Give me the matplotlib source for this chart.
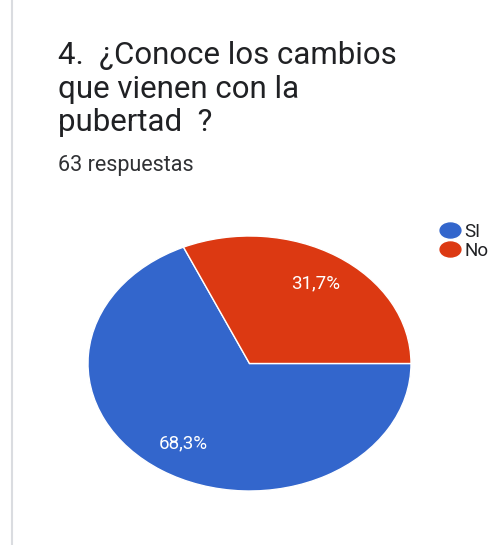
import matplotlib.pyplot as plt
from matplotlib.lines import Line2D
from matplotlib.path import Path
from matplotlib.transforms import Affine2D

plt.rcParams['font.family'] = ['Roboto', 'DejaVu Sans']

# datos
categorias = ['SI', 'No']
porcentajes = [68.3, 31.7]
colores = ['#3366cc', '#dc3912']
titulo = ['4.  ¿Conoce los cambios', 'que vienen con la', 'pubertad  ?']
subtitulo = '63 respuestas'

W, H = 495, 545
fig = plt.figure(figsize=(W / 100, H / 100), dpi=100)
fig.patch.set_facecolor('white')

# borde izquierdo de la tarjeta
fig.add_artist(Line2D([12 / W, 12 / W], [0, 1], color='#dadce0', lw=1.5))

# título, una línea cada vez (base en píxeles)
for i, linea in enumerate(titulo):
    fig.text(58 / W, 1 - (64 + 33.5 * i) / H, linea, fontsize=22.5,
             color='#202124', va='baseline', ha='left')
fig.text(58 / W, 1 - 171 / H, subtitulo, fontsize=15.5, color='#303134',
         va='baseline', ha='left')

# pastel (elíptico, como en la captura)
ax = fig.add_axes([88 / W, 1 - 491 / H, 323 / W, 255 / H])
wedges, textos, autotextos = ax.pie(
    porcentajes, colors=colores, startangle=114.12, counterclock=True,
    autopct=lambda p: f'{p:.1f}%'.replace('.', ','), pctdistance=0.75,
    wedgeprops=dict(edgecolor='white', linewidth=1))
for t in autotextos:
    t.set_color('white')
    t.set_fontsize(13.5)
ax.set_aspect('auto')
ax.set_xlim(-1, 1)
ax.set_ylim(-1, 1)
ax.axis('off')

# leyenda con marcadores elípticos
elipse = Path.unit_circle().transformed(Affine2D().scale(1.0, 0.72))
handles = [Line2D([0], [0], marker=elipse, linestyle='', markersize=15,
                  markerfacecolor=c, markeredgecolor=c) for c in colores]
fig.legend(handles, categorias, loc='center left',
           bbox_to_anchor=(440 / W, 1 - 241.5 / H), frameon=False,
           fontsize=13.5, handletextpad=0.2, labelspacing=0.05,
           handlelength=1.1, borderpad=0, borderaxespad=0,
           labelcolor='#202124')

fig.savefig('out.png', dpi=100)
